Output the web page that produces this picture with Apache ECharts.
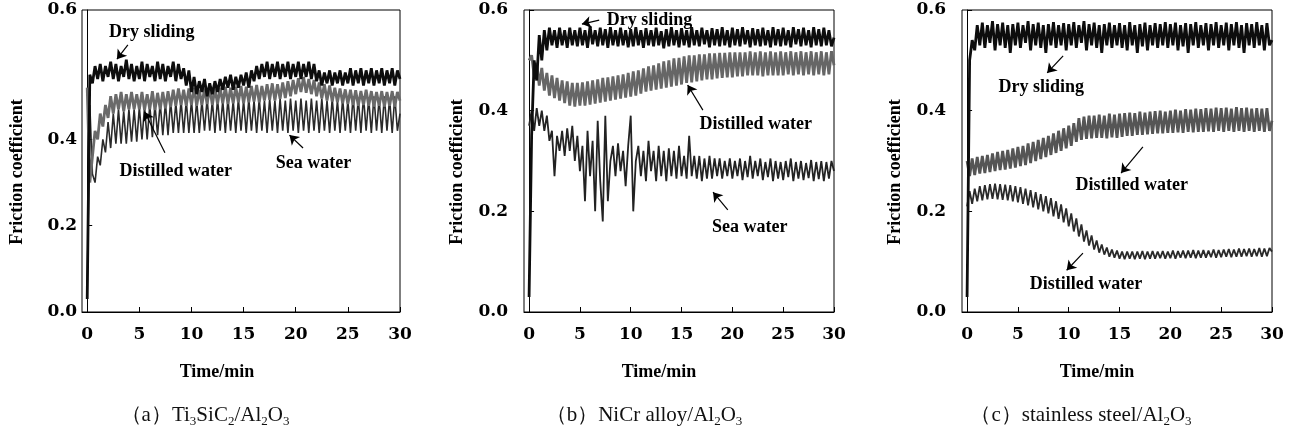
<!DOCTYPE html>
<html><head><meta charset="utf-8">
<script src="https://cdn.jsdelivr.net/npm/echarts@6/dist/echarts.min.js"></script>
<style>html,body{margin:0;padding:0;background:#fff}#c{width:1292px;height:439px}</style>
</head><body><div id="c"></div>
<script>
// ---- data (friction coefficient sampled every TIME_STEP minutes) ----
const TIME_STEP = 0.25;
const X_TICKS = [0, 5, 10, 15, 20, 25, 30];
const Y_TICKS = [0, 0.2, 0.4, 0.6];
const Y_TICKS_A = [0, 0.2, 0.4];
const Y_TOP_LABEL_A = '0.6';   // panel (a) prints "0.6" at the top of its (stretched) axis
const Y_MAX_A = 0.7;

// (a) Ti3SiC2/Al2O3
const A_DRY = [
0.03,0.55,0.53,0.57,0.54,0.575,0.535,0.57,0.545,0.58,0.54,0.575,0.535,0.57,0.545,0.585,0.54,0.575,0.535,0.57,
0.54,0.58,0.535,0.575,0.545,0.57,0.535,0.58,0.54,0.575,0.535,0.57,0.545,0.58,0.535,0.575,0.54,0.565,0.525,0.56,
0.51,0.545,0.505,0.535,0.51,0.54,0.50,0.53,0.505,0.535,0.51,0.54,0.515,0.545,0.52,0.55,0.515,0.545,0.52,0.55,
0.525,0.555,0.52,0.56,0.535,0.57,0.54,0.575,0.545,0.58,0.54,0.575,0.545,0.58,0.54,0.575,0.545,0.58,0.54,0.575,
0.545,0.58,0.54,0.575,0.545,0.58,0.54,0.575,0.535,0.56,0.525,0.555,0.53,0.56,0.525,0.555,0.53,0.56,0.525,0.555,
0.53,0.565,0.525,0.56,0.53,0.565,0.525,0.56,0.53,0.565,0.525,0.56,0.53,0.565,0.525,0.56,0.53,0.565,0.525,0.56,
0.54];
const A_DIST = [
0.52,0.30,0.36,0.42,0.40,0.46,0.43,0.48,0.45,0.50,0.46,0.505,0.47,0.51,0.465,0.505,0.47,0.51,0.47,0.505,
0.47,0.51,0.468,0.505,0.47,0.512,0.468,0.508,0.47,0.51,0.472,0.512,0.475,0.515,0.478,0.518,0.48,0.515,0.478,0.518,
0.48,0.52,0.478,0.515,0.48,0.518,0.482,0.52,0.48,0.518,0.482,0.52,0.484,0.522,0.482,0.52,0.484,0.522,0.486,0.524,
0.484,0.522,0.486,0.524,0.488,0.526,0.486,0.524,0.49,0.528,0.492,0.53,0.49,0.528,0.494,0.532,0.496,0.535,0.5,0.538,
0.505,0.542,0.51,0.545,0.508,0.54,0.505,0.538,0.5,0.532,0.495,0.528,0.49,0.525,0.488,0.52,0.486,0.518,0.484,0.516,
0.482,0.515,0.48,0.514,0.478,0.512,0.48,0.515,0.478,0.512,0.476,0.51,0.478,0.512,0.476,0.51,0.478,0.512,0.476,0.51,
0.49];
const A_SEA = [
0.05,0.48,0.32,0.30,0.36,0.34,0.40,0.37,0.44,0.38,0.46,0.39,0.47,0.39,0.465,0.39,0.47,0.395,0.47,0.395,
0.475,0.40,0.475,0.40,0.48,0.405,0.48,0.41,0.485,0.41,0.485,0.41,0.49,0.415,0.485,0.415,0.49,0.415,0.49,0.415,
0.49,0.415,0.49,0.415,0.49,0.42,0.495,0.42,0.49,0.415,0.495,0.42,0.49,0.415,0.495,0.42,0.49,0.415,0.495,0.42,
0.49,0.415,0.495,0.42,0.49,0.415,0.495,0.42,0.49,0.415,0.495,0.42,0.49,0.415,0.495,0.42,0.49,0.415,0.495,0.42,
0.49,0.415,0.495,0.42,0.49,0.415,0.495,0.42,0.49,0.415,0.495,0.42,0.49,0.415,0.495,0.42,0.49,0.415,0.495,0.42,
0.49,0.415,0.5,0.42,0.495,0.415,0.5,0.42,0.495,0.415,0.5,0.42,0.495,0.415,0.5,0.42,0.495,0.415,0.5,0.42,
0.46];

// (b) NiCr alloy/Al2O3
const B_DRY = [
0.03,0.35,0.50,0.46,0.55,0.50,0.56,0.52,0.565,0.53,0.56,0.525,0.565,0.53,0.56,0.525,0.565,0.53,0.56,0.528,
0.565,0.53,0.56,0.525,0.568,0.532,0.56,0.528,0.565,0.53,0.562,0.525,0.566,0.53,0.56,0.528,0.565,0.53,0.56,0.526,
0.562,0.528,0.566,0.53,0.56,0.525,0.564,0.53,0.56,0.528,0.565,0.53,0.558,0.524,0.562,0.528,0.566,0.53,0.56,0.526,
0.564,0.53,0.56,0.526,0.566,0.53,0.56,0.528,0.565,0.532,0.56,0.526,0.564,0.53,0.562,0.528,0.566,0.53,0.56,0.526,
0.565,0.53,0.562,0.528,0.566,0.532,0.56,0.526,0.564,0.53,0.562,0.528,0.565,0.53,0.56,0.526,0.566,0.53,0.562,0.528,
0.565,0.53,0.56,0.526,0.566,0.532,0.562,0.528,0.565,0.53,0.56,0.526,0.566,0.53,0.562,0.528,0.565,0.53,0.56,0.528,
0.545];
const B_DIST = [
0.50,0.51,0.47,0.495,0.45,0.485,0.44,0.475,0.43,0.47,0.425,0.465,0.42,0.46,0.415,0.458,0.41,0.455,0.408,0.455,
0.41,0.456,0.41,0.458,0.412,0.46,0.414,0.462,0.416,0.465,0.418,0.466,0.42,0.468,0.422,0.47,0.424,0.472,0.426,0.475,
0.428,0.478,0.43,0.48,0.434,0.484,0.438,0.488,0.44,0.49,0.442,0.494,0.444,0.498,0.446,0.5,0.448,0.504,0.45,0.505,
0.452,0.508,0.455,0.51,0.456,0.51,0.458,0.512,0.46,0.512,0.462,0.514,0.462,0.514,0.464,0.515,0.465,0.515,0.466,0.516,
0.466,0.516,0.468,0.516,0.468,0.516,0.47,0.518,0.47,0.516,0.47,0.518,0.468,0.516,0.47,0.518,0.47,0.516,0.47,0.518,
0.47,0.516,0.472,0.518,0.47,0.516,0.472,0.518,0.47,0.516,0.472,0.518,0.47,0.516,0.472,0.518,0.47,0.516,0.472,0.518,
0.49];
const B_SEA = [
0.37,0.40,0.36,0.405,0.37,0.40,0.36,0.39,0.34,0.36,0.27,0.35,0.32,0.36,0.31,0.365,0.32,0.37,0.30,0.35,
0.28,0.33,0.22,0.36,0.27,0.34,0.20,0.38,0.26,0.18,0.39,0.22,0.30,0.33,0.27,0.335,0.28,0.32,0.25,0.33,
0.39,0.20,0.30,0.33,0.27,0.32,0.26,0.34,0.28,0.32,0.26,0.33,0.27,0.32,0.26,0.325,0.27,0.32,0.265,0.33,
0.27,0.31,0.265,0.35,0.27,0.31,0.265,0.31,0.26,0.305,0.265,0.31,0.265,0.305,0.27,0.305,0.265,0.30,0.27,0.305,
0.265,0.30,0.27,0.305,0.262,0.30,0.268,0.31,0.265,0.30,0.27,0.305,0.262,0.298,0.268,0.305,0.26,0.30,0.265,0.298,
0.262,0.30,0.268,0.305,0.26,0.298,0.265,0.30,0.262,0.296,0.266,0.302,0.26,0.298,0.264,0.30,0.26,0.298,0.265,0.30,
0.28];

// (c) stainless steel/Al2O3
const C_DRY = [
0.03,0.50,0.54,0.52,0.57,0.53,0.575,0.525,0.57,0.535,0.578,0.52,0.572,0.53,0.575,0.525,0.57,0.515,0.572,0.53,
0.575,0.525,0.57,0.535,0.578,0.52,0.572,0.53,0.575,0.525,0.57,0.515,0.572,0.53,0.576,0.525,0.57,0.53,0.574,0.52,
0.572,0.53,0.576,0.525,0.57,0.535,0.578,0.52,0.572,0.53,0.575,0.525,0.57,0.515,0.572,0.53,0.575,0.525,0.57,0.53,
0.574,0.525,0.57,0.52,0.576,0.53,0.57,0.515,0.572,0.528,0.575,0.52,0.57,0.53,0.574,0.525,0.572,0.53,0.576,0.525,
0.572,0.53,0.575,0.52,0.57,0.528,0.574,0.515,0.572,0.53,0.576,0.525,0.57,0.53,0.574,0.52,0.572,0.53,0.576,0.525,
0.57,0.53,0.575,0.52,0.572,0.53,0.576,0.525,0.57,0.515,0.574,0.53,0.572,0.525,0.576,0.53,0.57,0.52,0.574,0.53,
0.54];
const C_DIST_HIGH = [
0.30,0.27,0.305,0.272,0.308,0.275,0.31,0.276,0.312,0.278,0.315,0.28,0.318,0.282,0.32,0.283,0.322,0.285,0.325,0.287,
0.328,0.29,0.33,0.292,0.335,0.296,0.338,0.30,0.342,0.304,0.346,0.308,0.35,0.312,0.355,0.316,0.36,0.32,0.365,0.325,
0.37,0.33,0.375,0.338,0.385,0.342,0.388,0.344,0.39,0.345,0.39,0.346,0.392,0.346,0.39,0.345,0.394,0.347,0.392,0.346,
0.394,0.348,0.395,0.35,0.396,0.35,0.395,0.352,0.398,0.352,0.396,0.353,0.398,0.354,0.399,0.355,0.4,0.355,0.398,0.356,
0.4,0.356,0.402,0.357,0.4,0.356,0.403,0.358,0.402,0.357,0.404,0.358,0.403,0.358,0.405,0.359,0.404,0.358,0.406,0.36,
0.405,0.358,0.406,0.36,0.404,0.358,0.407,0.36,0.405,0.358,0.406,0.36,0.404,0.358,0.405,0.36,0.404,0.358,0.405,0.36,
0.38];
const C_DIST_LOW = [
0.21,0.24,0.215,0.245,0.22,0.25,0.222,0.252,0.224,0.254,0.225,0.255,0.224,0.254,0.223,0.253,0.222,0.252,0.22,0.25,
0.218,0.248,0.215,0.245,0.212,0.242,0.208,0.238,0.204,0.234,0.2,0.23,0.196,0.226,0.19,0.22,0.185,0.214,0.178,0.206,
0.17,0.196,0.16,0.186,0.15,0.174,0.14,0.162,0.132,0.152,0.124,0.142,0.118,0.134,0.114,0.128,0.11,0.124,0.108,0.122,
0.106,0.12,0.105,0.12,0.106,0.12,0.105,0.12,0.106,0.121,0.105,0.12,0.106,0.121,0.106,0.12,0.107,0.121,0.106,0.12,
0.107,0.122,0.106,0.121,0.108,0.122,0.107,0.122,0.108,0.123,0.107,0.122,0.108,0.123,0.108,0.122,0.109,0.124,0.108,0.123,
0.109,0.124,0.11,0.125,0.109,0.124,0.11,0.126,0.11,0.125,0.111,0.126,0.11,0.125,0.111,0.127,0.11,0.126,0.111,0.127,
0.12];

// annotations: label position and arrow (from -> to), in data coordinates
const NOTES_A = [
  {text: 'Dry sliding', at: [6.2, 0.649], from: [3.9, 0.619], to: [2.85, 0.586]},
  {text: 'Distilled water', at: [8.5, 0.327], from: [7.45, 0.369], to: [5.5, 0.464]},
  {text: 'Sea water', at: [21.7, 0.345], from: [20.7, 0.38], to: [19.4, 0.41]}
];
const NOTES_B = [
  {text: 'Dry sliding', at: [11.85, 0.58], from: [6.9, 0.58], to: [5.2, 0.572]},
  {text: 'Distilled water', at: [22.3, 0.372], from: [17.1, 0.401], to: [15.6, 0.451]},
  {text: 'Sea water', at: [21.7, 0.169], from: [19.55, 0.203], to: [18.1, 0.238]}
];
const NOTES_C = [
  {text: 'Dry sliding', at: [7.3, 0.447], from: [9.45, 0.509], to: [7.88, 0.475]},
  {text: 'Distilled water', at: [16.2, 0.252], from: [17.3, 0.328], to: [15.15, 0.276]},
  {text: 'Distilled water', at: [11.7, 0.054], from: [11.4, 0.117], to: [9.8, 0.083]}
];

const CAPTIONS = [
  '（a）Ti{s|3}SiC{s|2}/Al{s|2}O{s|3}',
  '（b）NiCr alloy/Al{s|2}O{s|3}',
  '（c）stainless steel/Al{s|2}O{s|3}'
];
const X_TITLE = 'Time/min';
const Y_TITLE = 'Friction coefficient';

// ---- chart ----
const SERIF = '"Liberation Serif", "Times New Roman", serif';
const BOLD18 = {fontFamily: SERIF, fontWeight: 'bold', fontSize: 18, color: '#000'};
const TICKFONT = {fontFamily: '"DejaVu Serif", serif', fontWeight: 'bold', fontSize: 17, color: '#000'};
const toXY = arr => arr.map((v, i) => [i * TIME_STEP, v]);

const grids = [
  {left: 82, top: 10, width: 318, height: 302},
  {left: 524, top: 10, width: 310, height: 302},
  {left: 962, top: 10, width: 310, height: 302}
].map(g => Object.assign({show: true, borderColor: '#000', borderWidth: 1, containLabel: false}, g));

const xAxes = [0, 1, 2].map(i => ({
  type: 'value', gridIndex: i, min: -0.5, max: 30,
  axisLine: {show: true, lineStyle: {color: '#000', width: 1}},
  axisTick: {show: true, inside: true, length: 5, customValues: X_TICKS, lineStyle: {color: '#000'}},
  axisLabel: Object.assign({customValues: X_TICKS, margin: 14, formatter: v => String(v)}, TICKFONT),
  splitLine: {show: false}
}));

const yAxes = [0, 1, 2].map(i => {
  const isA = i === 0;
  return {
    type: 'value', gridIndex: i, min: 0, max: isA ? Y_MAX_A : 0.6,
    axisLine: {show: true, lineStyle: {color: '#000', width: 1}},
    axisTick: {show: true, inside: true, length: 5, customValues: isA ? Y_TICKS_A : Y_TICKS, lineStyle: {color: '#000'}},
    axisLabel: Object.assign({
      customValues: isA ? Y_TICKS_A.concat([Y_MAX_A]) : Y_TICKS,
      margin: isA ? 5 : 16,
      formatter: v => (isA && v > 0.65) ? Y_TOP_LABEL_A : v.toFixed(1)
    }, TICKFONT),
    splitLine: {show: false}
  };
});

function lineSeries(idx, data, color, z, w) {
  return {
    type: 'line', xAxisIndex: idx, yAxisIndex: idx, data: toXY(data),
    showSymbol: false, symbol: 'none', sampling: 'none', z: z,
    lineStyle: {color: color, width: w, join: 'miter', miterLimit: 2}, silent: true, animation: false
  };
}
function noteSeries(idx, notes) {
  return {
    type: 'line', xAxisIndex: idx, yAxisIndex: idx, data: [], z: 10, silent: true,
    markPoint: {
      symbol: 'circle', symbolSize: 1, itemStyle: {color: 'rgba(0,0,0,0)'},
      label: Object.assign({show: true, position: 'inside', formatter: '{b}'}, BOLD18),
      data: notes.map(n => ({name: n.text, coord: n.at}))
    },
    markLine: {
      symbol: ['none', 'arrow'], symbolSize: 9, silent: true,
      label: {show: false},
      lineStyle: {color: '#000', width: 1.2, type: 'solid'},
      itemStyle: {color: '#000'},
      data: notes.map(n => [{coord: n.from}, {coord: n.to}])
    }
  };
}

const series = [
  lineSeries(0, A_SEA, '#2a2a2a', 2, 1.6),
  lineSeries(0, A_DIST, '#6a6a6a', 3, 2.8),
  lineSeries(0, A_DRY, '#0d0d0d', 4, 2.8),
  noteSeries(0, NOTES_A),
  lineSeries(1, B_SEA, '#222222', 2, 1.8),
  lineSeries(1, B_DIST, '#666666', 3, 2.8),
  lineSeries(1, B_DRY, '#0d0d0d', 4, 2.8),
  noteSeries(1, NOTES_B),
  lineSeries(2, C_DIST_LOW, '#2a2a2a', 2, 1.8),
  lineSeries(2, C_DIST_HIGH, '#555555', 3, 2.8),
  lineSeries(2, C_DRY, '#0d0d0d', 4, 2.8),
  noteSeries(2, NOTES_C)
];

const xTitlePos = [217, 659, 1097];
const yTitlePos = [17, 457, 895];
const capPos = [205, 644, 1081];
const graphic = [];
for (let i = 0; i < 3; i++) {
  graphic.push({type: 'text', x: xTitlePos[i], y: 372, silent: true,
    style: {text: X_TITLE, font: 'bold 18px ' + SERIF, fill: '#000', align: 'center', verticalAlign: 'middle'}});
  graphic.push({type: 'text', x: yTitlePos[i], y: 172, rotation: Math.PI / 2, silent: true,
    style: {text: Y_TITLE, font: 'bold 18px ' + SERIF, fill: '#000', align: 'center', verticalAlign: 'middle'}});
  graphic.push({type: 'text', x: capPos[i], y: 415, silent: true,
    style: {text: CAPTIONS[i], font: '21px ' + SERIF, fill: '#111', align: 'center', verticalAlign: 'middle',
      lineHeight: 26,
      rich: {s: {fontSize: 13, fontFamily: SERIF, fill: '#111', verticalAlign: 'bottom', lineHeight: 26, padding: [9, 0, 0, 0]}}}});
}

const chart = echarts.init(document.getElementById('c'), null, {renderer: 'canvas'});
chart.setOption({
  animation: false, backgroundColor: '#fff',
  grid: grids, xAxis: xAxes, yAxis: yAxes, series: series, graphic: graphic
});
</script></body></html>
